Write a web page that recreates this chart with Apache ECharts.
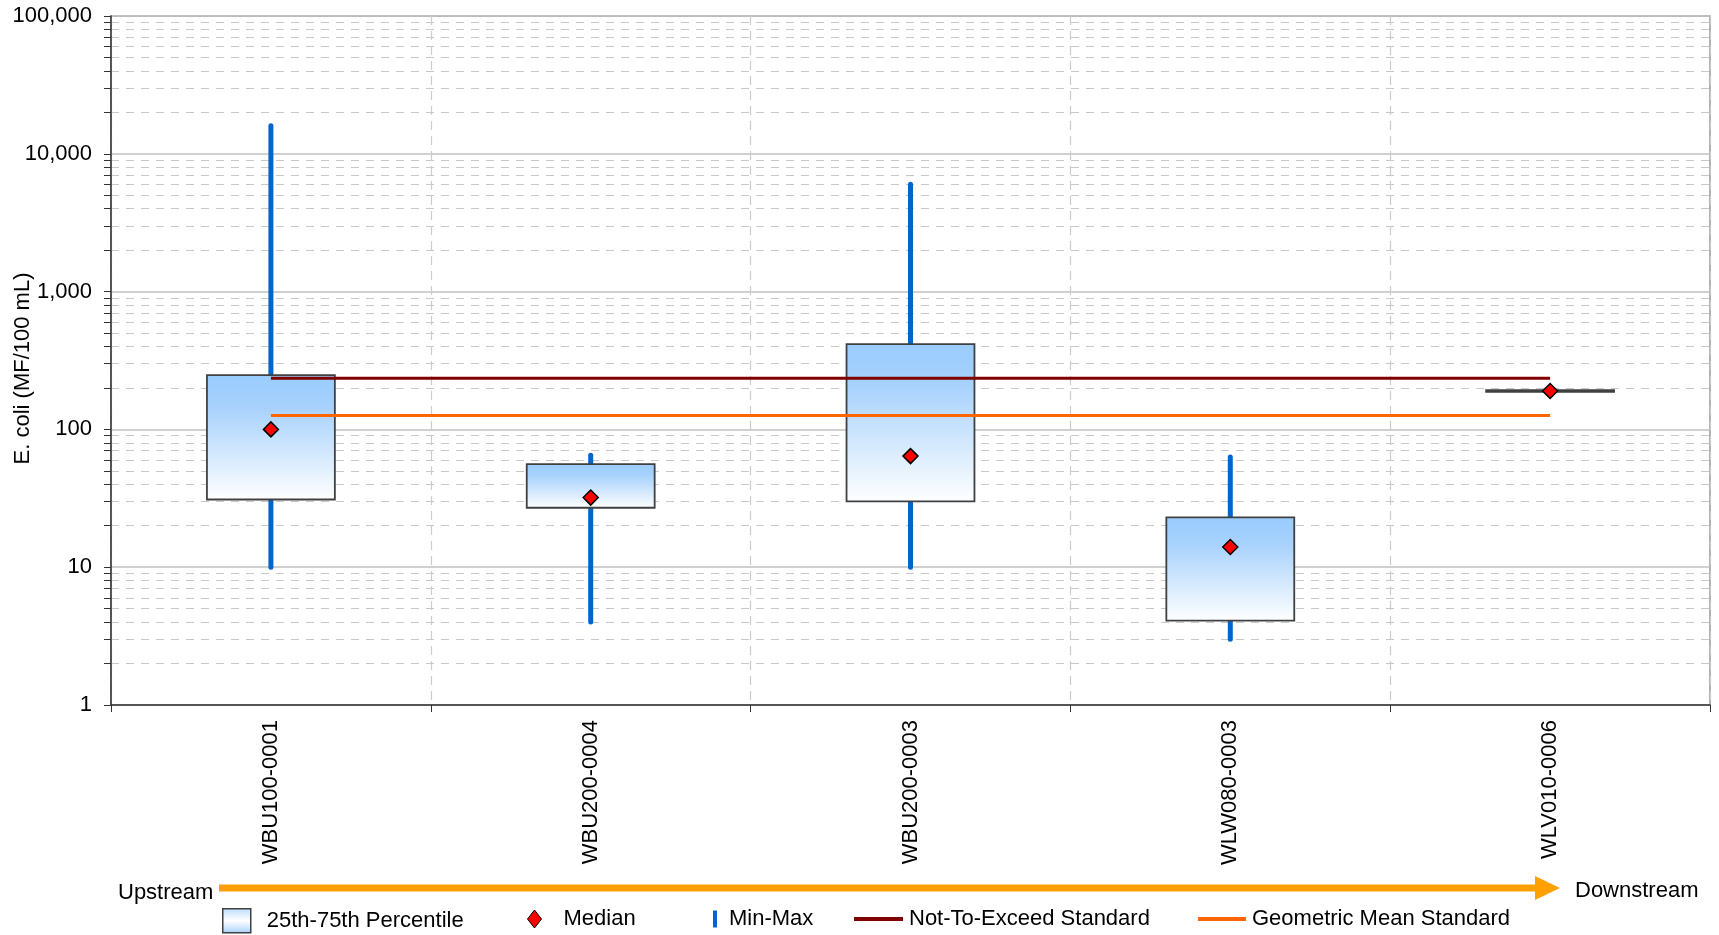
<!DOCTYPE html>
<html>
<head>
<meta charset="utf-8">
<script src="https://cdn.jsdelivr.net/npm/echarts@6/dist/echarts.min.js"></script>
<style>
html,body{margin:0;padding:0;background:#fff;}
#chart{width:1719px;height:935px;}
</style>
</head>
<body>
<div id="chart"></div>
<script>
// ---- data ----
const categories = ['WBU100-0001', 'WBU200-0004', 'WBU200-0003', 'WLW080-0003', 'WLV010-0006'];
const minVals    = [10, 4, 10, 3, 190];
const q1Vals     = [31, 27, 30, 4.1, 190];
const medianVals = [100, 32, 64, 14, 190];
const q3Vals     = [248, 56, 416, 23, 190];
const maxVals    = [16000, 65, 6000, 63, 190];
const nteVals    = [235, 235, 235, 235, 235];
const gmVals     = [126, 126, 126, 126, 126];
const legendNames = ['25th-75th Percentile', 'Median', 'Min-Max', 'Not-To-Exceed Standard', 'Geometric Mean Standard'];

// ---- styles ----
const FONT = 'Liberation Sans, Arial, sans-serif';
const FS = 22;
const boxGradient = new echarts.graphic.LinearGradient(0, 0, 0, 1, [
  {offset: 0, color: '#99CCFF'},
  {offset: 0.25, color: '#A6D1FC'},
  {offset: 1, color: '#FFFFFF'}
]);
const legendGradient = new echarts.graphic.LinearGradient(0, 0, 0, 1, [
  {offset: 0, color: '#BCDDFD'},
  {offset: 0.5, color: '#FFFFFF'},
  {offset: 1, color: '#A6D1FC'}
]);

const whiskerData = categories.map((c, i) => [i, minVals[i], maxVals[i]]);
const boxData = categories.map((c, i) => [i, q1Vals[i], q3Vals[i]]);

const chart = echarts.init(document.getElementById('chart'), null, {renderer: 'canvas'});

const legendBase = {
  top: 903,
  orient: 'horizontal',
  selectedMode: false,
  textStyle: {fontFamily: FONT, fontSize: FS, color: '#000'}
};

chart.setOption({
  animation: false,
  backgroundColor: '#fff',
  textStyle: {fontFamily: FONT},
  grid: {
    left: 111, right: 9, top: 16, bottom: 230,
    outerBoundsMode: 'none',
    containLabel: false,
    show: true, borderColor: '#999', borderWidth: 1.5, backgroundColor: 'transparent'
  },
  legend: [
    Object.assign({}, legendBase, {
      left: 217, itemWidth: 28, itemHeight: 24,
      data: [{name: legendNames[0], icon: 'rect',
        itemStyle: {color: legendGradient, borderColor: '#404040', borderWidth: 1.5}}],
      textStyle: {fontFamily: FONT, fontSize: FS, color: '#000', padding: [0, 0, 0, 11]}
    }),
    Object.assign({}, legendBase, {
      left: 522, itemWidth: 14, itemHeight: 18,
      data: [{name: legendNames[1], icon: 'diamond',
        itemStyle: {color: '#FF0000', borderColor: '#000', borderWidth: 1}}],
      textStyle: {fontFamily: FONT, fontSize: FS, color: '#000', padding: [0, 0, 0, 17]}
    }),
    Object.assign({}, legendBase, {
      left: 708, itemWidth: 4, itemHeight: 17,
      data: [{name: legendNames[2], icon: 'rect', itemStyle: {color: '#0066CC', borderWidth: 0}}],
      textStyle: {fontFamily: FONT, fontSize: FS, color: '#000', padding: [0, 0, 0, 7]}
    }),
    Object.assign({}, legendBase, {
      left: 849, itemWidth: 49, itemHeight: 4,
      data: [{name: legendNames[3], icon: 'rect', itemStyle: {color: '#800000', borderWidth: 0}}],
      textStyle: {fontFamily: FONT, fontSize: FS, color: '#000', padding: [0, 0, 0, 1]}
    }),
    Object.assign({}, legendBase, {
      left: 1193, itemWidth: 48, itemHeight: 4,
      data: [{name: legendNames[4], icon: 'rect', itemStyle: {color: '#FF6600', borderWidth: 0}}],
      textStyle: {fontFamily: FONT, fontSize: FS, color: '#000', padding: [0, 0, 0, 1]}
    })
  ],
  xAxis: {
    type: 'category',
    data: categories,
    boundaryGap: true,
    axisLine: {show: true, lineStyle: {color: '#333', width: 1.5}},
    axisTick: {show: true, alignWithLabel: false, length: 7, lineStyle: {color: '#333'}},
    axisLabel: {rotate: 90, margin: 15, fontFamily: FONT, fontSize: FS, color: '#000', interval: 0},
    splitLine: {show: true, interval: 0, lineStyle: {type: [9, 6], color: '#cccccc', width: 1.2}}
  },
  yAxis: {
    type: 'log',
    logBase: 10,
    min: 1,
    max: 100000,
    interval: 1,
    name: 'E. coli (MF/100 mL)',
    nameLocation: 'middle',
    nameGap: 77,
    nameMoveOverlap: false,
    nameTextStyle: {fontFamily: FONT, fontSize: FS, color: '#000', padding: [0, 16, 0, 0]},
    axisLine: {show: true, lineStyle: {color: '#333', width: 1.5}},
    axisTick: {show: true, length: 7, lineStyle: {color: '#333'}},
    minorTick: {show: true, splitNumber: 9, length: 7, lineStyle: {color: '#333'}},
    axisLabel: {
      margin: 19, fontFamily: FONT, fontSize: FS, color: '#000',
      formatter: v => Number(v).toLocaleString('en-US')
    },
    splitLine: {show: true, lineStyle: {color: '#c0c0c0', width: 1.5}},
    minorSplitLine: {show: true, lineStyle: {color: '#c8c8c8', type: [8, 7], width: 1}}
  },
  graphic: [
    {type: 'line', shape: {x1: 219, y1: 888, x2: 1538, y2: 888},
      style: {stroke: '#FFA000', lineWidth: 7}, z: 10},
    {type: 'polygon', shape: {points: [[1535, 876], [1560, 888], [1535, 900]]},
      style: {fill: '#FFA000'}, z: 10},
    {type: 'text', left: 118, top: 882,
      style: {text: 'Upstream', font: FS + 'px ' + FONT, fill: '#000'}},
    {type: 'text', left: 1575, top: 880,
      style: {text: 'Downstream', font: FS + 'px ' + FONT, fill: '#000'}}
  ],
  series: [
    {
      name: legendNames[2],
      type: 'custom',
      data: whiskerData,
      encode: {x: 0, y: [1, 2]},
      renderItem: function (params, api) {
        const i = api.value(0);
        const pMin = api.coord([i, api.value(1)]);
        const pMax = api.coord([i, api.value(2)]);
        return {
          type: 'line',
          shape: {x1: pMin[0], y1: pMin[1], x2: pMax[0], y2: pMax[1]},
          style: {stroke: '#0066CC', lineWidth: 5, lineCap: 'round'}
        };
      },
      z: 2
    },
    {
      name: legendNames[0],
      type: 'custom',
      data: boxData,
      encode: {x: 0, y: [1, 2]},
      renderItem: function (params, api) {
        const i = api.value(0);
        const p1 = api.coord([i, api.value(1)]);
        const p3 = api.coord([i, api.value(2)]);
        const band = api.size([1, 1])[0];
        const w = band * 0.4;
        let h = p1[1] - p3[1];
        let y = p3[1];
        if (h < 1.5) { y = y - 0.75; h = 1.5; }
        return {
          type: 'rect',
          shape: {x: p1[0] - w / 2, y: y, width: w, height: h},
          style: {fill: boxGradient, stroke: '#404040', lineWidth: 1.8}
        };
      },
      z: 3
    },
    {
      name: legendNames[3],
      type: 'line',
      data: nteVals,
      symbol: 'none',
      lineStyle: {color: '#800000', width: 3},
      itemStyle: {color: '#800000'},
      z: 4
    },
    {
      name: legendNames[4],
      type: 'line',
      data: gmVals,
      symbol: 'none',
      lineStyle: {color: '#FF6600', width: 3},
      itemStyle: {color: '#FF6600'},
      z: 4
    },
    {
      name: legendNames[1],
      type: 'scatter',
      data: medianVals,
      symbol: 'diamond',
      symbolSize: [15, 15],
      itemStyle: {color: '#FF0000', borderColor: '#000', borderWidth: 1.5, opacity: 1},
      z: 5
    }
  ]
});
</script>
</body>
</html>
